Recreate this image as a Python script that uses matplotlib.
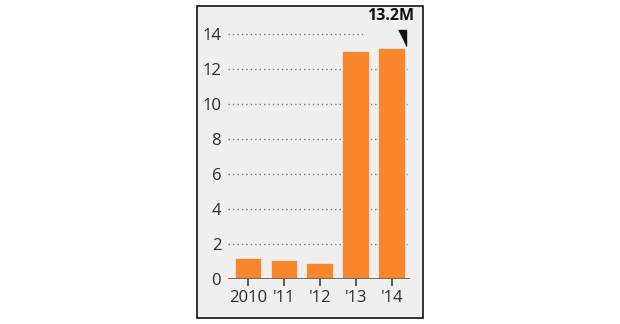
import matplotlib.pyplot as plt
from matplotlib.patches import Rectangle

years = ['2010', "'11", "'12", "'13", "'14"]
values = [1.18, 1.08, 0.92, 13.05, 13.2]
yticks = [0, 2, 4, 6, 8, 10, 12, 14]
callout = '13.2M'

plt.rcParams['font.family'] = ['Open Sans', 'DejaVu Sans']

fig = plt.figure(figsize=(6.2, 3.24), dpi=100)
bg = '#efefef'
# framed panel behind the axes
fig.patches.append(Rectangle((0.318, 0.019), 0.364, 0.962, transform=fig.transFigure,
                             facecolor=bg, edgecolor='#111111', linewidth=1.2, zorder=-10))

ax = fig.add_axes([0.368, 0.139, 0.293, 0.81])
ax.set_facecolor('none')
x = range(len(years))
for t in yticks[1:]:
    # top line stops short to leave room for the callout
    xmax = 0.76 if t == yticks[-1] else 1
    ax.axhline(t, xmax=xmax, color='#777777', linestyle=(0, (1, 2.2)), linewidth=1, zorder=1)
ax.bar(x, values, width=0.76, color='#f7862c', edgecolor=bg, linewidth=1.2, zorder=2)
ax.axhline(0, color='#444444', linewidth=1.8, zorder=3)

ax.set_xlim(-0.56, 4.5)
ax.set_ylim(0, 15)
ax.set_yticks(yticks)
ax.set_xticks(list(x))
ax.set_xticklabels(years)
ax.tick_params(axis='y', length=0, pad=5, labelsize=12, labelcolor='#2a2a2a')
ax.tick_params(axis='x', length=5, width=1.2, color='#444444', pad=3,
               labelsize=12, labelcolor='#2a2a2a')
for s in ax.spines.values():
    s.set_visible(False)

i = len(values) - 1
ax.plot([i + 0.27], [values[i] + 0.6], marker=[(-0.5, 1), (0.5, 1), (0.5, -1)],
        color='#111111', markersize=11, zorder=4, clip_on=False)
ax.text(i - 0.04, 15.05, callout, ha='center', va='center', fontsize=11.5,
        fontweight='bold', color='#111111', clip_on=False)

fig.savefig('out.png', dpi=100)
